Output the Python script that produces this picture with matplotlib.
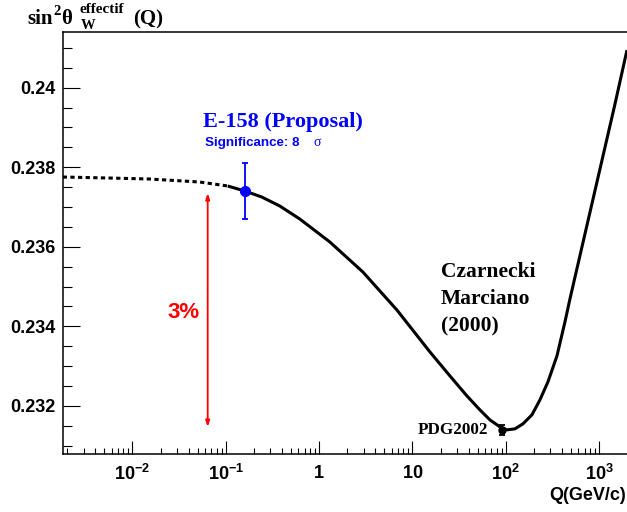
import matplotlib
matplotlib.use("Agg")
import matplotlib.pyplot as plt
from matplotlib.ticker import FixedLocator, FixedFormatter, LogLocator, MultipleLocator, NullFormatter

plt.rcParams['mathtext.fontset'] = 'custom'
plt.rcParams['mathtext.rm'] = 'Liberation Sans:bold'
plt.rcParams['mathtext.it'] = 'Liberation Sans:bold'
plt.rcParams['mathtext.bf'] = 'Liberation Sans:bold'

# Running sin^2 theta_W (Czarnecki-Marciano 2000)
q_dotted = [0.00179, 0.00446, 0.01532, 0.02840, 0.05265, 0.1050]
s_dotted = [0.237754, 0.237734, 0.237704, 0.237666, 0.237628, 0.237528]

q_solid = [0.1050, 0.1598, 0.2431, 0.3791, 0.6210, 1.302, 2.940, 6.805, 15.37,
           25.17, 38.30, 52.77, 67.55, 86.45, 102.8, 125.2, 152.5, 190.4, 232.0,
           282.6, 353.0, 430.0, 486.4, 704.3, 1020, 1477, 1986]
s_solid = [0.237528, 0.237402, 0.237251, 0.237025, 0.236698, 0.236121, 0.235367,
           0.234412, 0.233357, 0.232754, 0.232251, 0.231899, 0.231648, 0.231472,
           0.231397, 0.231422, 0.231548, 0.231774, 0.232151, 0.232603, 0.233256,
           0.234111, 0.234688, 0.236322, 0.237955, 0.239588, 0.240945]

# E-158 proposal point
e158_q = [0.160]
e158_s = [0.2374]
e158_err = [0.0007]

# PDG2002 point
pdg_q = [91.19]
pdg_s = [0.2314]
pdg_err = [0.00012]

# 3% arrow
arrow_q = 0.064
arrow_s = (0.23147, 0.23735)

xticks = [1e-2, 1e-1, 1, 10, 1e2, 1e3]
xticklabels = [r'$\mathbf{10^{-2}}$', r'$\mathbf{10^{-1}}$', r'$\mathbf{1}$',
               r'$\mathbf{10}$', r'$\mathbf{10^{2}}$', r'$\mathbf{10^{3}}$']
yticks = [0.232, 0.234, 0.236, 0.238, 0.240]
yticklabels = ['0.232', '0.234', '0.236', '0.238', '0.24']

W, H = 627, 512
fig = plt.figure(figsize=(W / 100, H / 100), dpi=100)
ax = fig.add_axes([62.7 / W, (H - 454) / H, (627 - 62.7) / W, (454 - 32) / H])

ax.set_xscale('log')
ax.set_xlim(0.00179, 1987)
ax.set_ylim(0.23079, 0.24140)

ax.plot(q_dotted, s_dotted, color='black', lw=2.2, dashes=(1.4, 1.1),
        dash_capstyle='butt')
ax.plot(q_solid, s_solid, color='black', lw=2.2, solid_capstyle='butt',
        solid_joinstyle='round')

ax.errorbar(e158_q, e158_s, yerr=e158_err, fmt='o', color='#0000ff', ms=7,
            elinewidth=1.3, capsize=2.5, capthick=1.3, zorder=5)
ax.errorbar(pdg_q, pdg_s, yerr=pdg_err, fmt='o', color='black', ms=5,
            elinewidth=1.3, capsize=2, capthick=1.3, zorder=5)

ax.annotate('', xy=(arrow_q, arrow_s[0]), xytext=(arrow_q, arrow_s[1]),
            arrowprops=dict(arrowstyle='<|-|>,head_length=0.35,head_width=0.12',
                            color='#ff0000', lw=1.3, shrinkA=0, shrinkB=0))

# ticks
ax.xaxis.set_major_locator(FixedLocator(xticks))
ax.xaxis.set_major_formatter(FixedFormatter(xticklabels))
ax.xaxis.set_minor_locator(LogLocator(base=10, subs=range(2, 10), numticks=20))
ax.xaxis.set_minor_formatter(NullFormatter())
ax.yaxis.set_major_locator(FixedLocator(yticks))
ax.yaxis.set_major_formatter(FixedFormatter(yticklabels))
ax.yaxis.set_minor_locator(MultipleLocator(0.0005))

ax.tick_params(axis='x', which='major', direction='in', length=9.4, width=0.8,
               top=False, pad=7, labelsize=13)
ax.tick_params(axis='x', which='minor', direction='in', length=4.3, width=0.8, top=False)
ax.tick_params(axis='y', which='major', direction='in', length=12, width=0.8,
               right=False, pad=5, labelsize=13)
ax.tick_params(axis='y', which='minor', direction='in', length=6.5, width=0.8, right=False)
for lab in ax.get_yticklabels():
    lab.set_fontfamily('Liberation Sans')
    lab.set_fontweight('bold')

for s in ['left', 'bottom', 'top']:
    ax.spines[s].set_linewidth(1.1)
ax.spines['right'].set_visible(False)

def fx(x):
    return x / W

def fy(y):
    return 1 - y / H

serif = dict(fontfamily='Liberation Serif', fontweight='bold')
sans = dict(fontfamily='Liberation Sans', fontweight='bold')

# y-axis title pieces: sin^2 theta _W ^effectif (Q)
fig.text(fx(27), fy(24), 'sin', fontsize=15, ha='left', va='baseline', **serif)
fig.text(fx(53), fy(15), '2', fontsize=10.5, ha='left', va='baseline', **serif)
fig.text(fx(61), fy(24), 'θ', fontsize=15, ha='left', va='baseline', **serif)
fig.text(fx(80), fy(13), 'effectif', fontsize=11, ha='left', va='baseline', **serif)
fig.text(fx(81), fy(29), 'W', fontsize=10.5, ha='left', va='baseline', **serif)
fig.text(fx(133), fy(24), '(Q)', fontsize=15, ha='left', va='baseline', **serif)

fig.text(fx(626), fy(496), 'Q(GeV/c)', fontsize=13, ha='right', va='center', **sans)

fig.text(fx(283), fy(122), 'E-158 (Proposal)', fontsize=16, color='#0000ff',
         ha='center', va='center', **serif)
fig.text(fx(205), fy(143), 'Significance: 8', fontsize=9.6, color='#0000ff',
         ha='left', va='center', **sans)
fig.text(fx(314), fy(143), 'σ', fontsize=10, fontfamily='Liberation Serif',
         color='#0000ff', ha='left', va='center')

fig.text(fx(183), fy(312), '3%', fontsize=16, color='#ff0000',
         ha='center', va='center', **sans)

for i, t in enumerate(['Czarnecki', 'Marciano', '(2000)']):
    fig.text(fx(441), fy(272 + 27 * i), t, fontsize=15.5, ha='left', va='center',
             **serif)

fig.text(fx(488), fy(430), 'PDG2002', fontsize=12.3, ha='right', va='center', **serif)

fig.savefig('out.png', dpi=100)
